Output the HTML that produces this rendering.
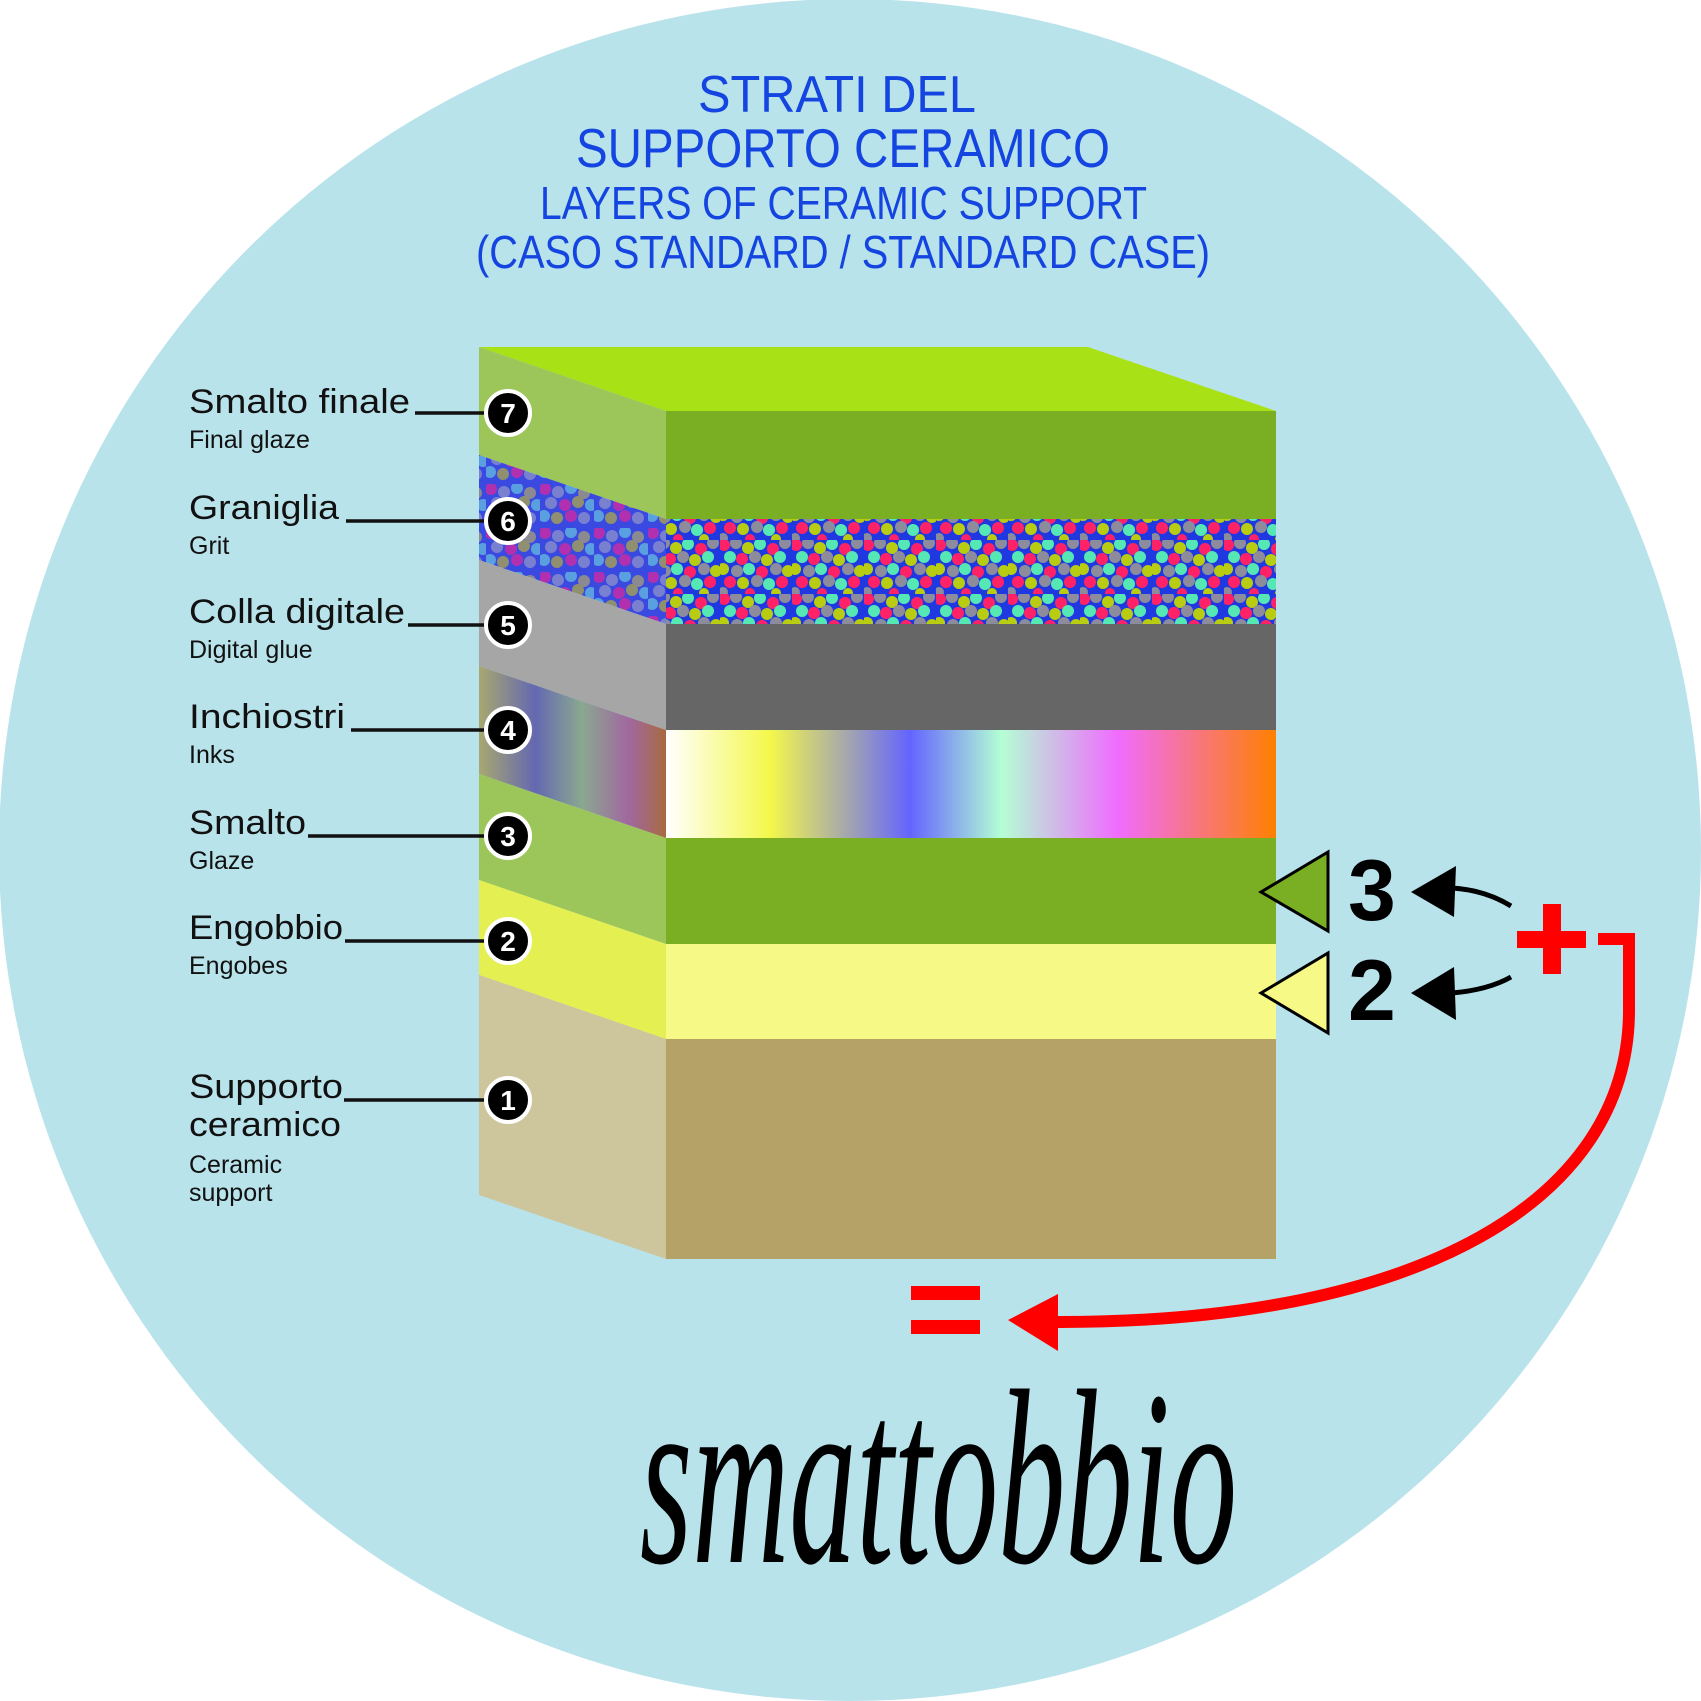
<!DOCTYPE html>
<html><head><meta charset="utf-8"><style>html,body{margin:0;padding:0;background:#fff}svg{display:block}</style></head>
<body>
<svg width="1701" height="1701" viewBox="0 0 1701 1701" xmlns="http://www.w3.org/2000/svg">
<defs>
<pattern id="grit" width="72" height="54" patternUnits="userSpaceOnUse">
<rect width="72" height="54" fill="#2038e0"/>
<circle cx="4" cy="5" r="6" fill="#ff2266"/><circle cx="16" cy="3" r="6" fill="#8c8c9c"/><circle cx="28" cy="8" r="6" fill="#b8cc12"/><circle cx="40" cy="4" r="6" fill="#55e8b5"/><circle cx="53" cy="9" r="6" fill="#ff2266"/><circle cx="65" cy="3" r="6" fill="#8c8c9c"/>
<circle cx="10" cy="17" r="6" fill="#55e8b5"/><circle cx="22" cy="19" r="6" fill="#ff2266"/><circle cx="35" cy="17" r="6" fill="#8c8c9c"/><circle cx="47" cy="20" r="6" fill="#b8cc12"/><circle cx="60" cy="17" r="6" fill="#55e8b5"/>
<circle cx="3" cy="29" r="6" fill="#b8cc12"/><circle cx="17" cy="31" r="6" fill="#8c8c9c"/><circle cx="29" cy="29" r="6" fill="#55e8b5"/><circle cx="42" cy="32" r="6" fill="#ff2266"/><circle cx="56" cy="29" r="6" fill="#8c8c9c"/><circle cx="68" cy="31" r="6" fill="#b8cc12"/>
<circle cx="10" cy="42" r="6" fill="#ff2266"/><circle cx="23" cy="43" r="6" fill="#b8cc12"/><circle cx="37" cy="41" r="6" fill="#8c8c9c"/><circle cx="49" cy="44" r="6" fill="#55e8b5"/><circle cx="62" cy="42" r="6" fill="#ff2266"/>
<circle cx="3" cy="52" r="5" fill="#8c8c9c"/><circle cx="30" cy="53" r="5" fill="#ff2266"/><circle cx="56" cy="53" r="5" fill="#b8cc12"/>
</pattern>
<pattern id="gritL" width="54" height="44" patternUnits="userSpaceOnUse">
<rect width="54" height="44" fill="#3a4ae0"/>
<circle cx="5" cy="5" r="6" fill="#b030b0"/><circle cx="18" cy="8" r="6" fill="#7a80d0"/><circle cx="31" cy="4" r="6" fill="#5aa0e0"/><circle cx="44" cy="9" r="6" fill="#8a8a90"/>
<circle cx="11" cy="19" r="6" fill="#7a80d0"/><circle cx="25" cy="21" r="6" fill="#b030b0"/><circle cx="38" cy="18" r="6" fill="#909070"/><circle cx="51" cy="21" r="6" fill="#5aa0e0"/>
<circle cx="4" cy="32" r="6" fill="#5aa0e0"/><circle cx="17" cy="34" r="6" fill="#909070"/><circle cx="31" cy="32" r="6" fill="#b030b0"/><circle cx="44" cy="34" r="6" fill="#7a80d0"/>
</pattern>
<linearGradient id="ink" x1="0" x2="1" y1="0" y2="0">
<stop offset="0" stop-color="#ffffff"/><stop offset="0.17" stop-color="#f4f84a"/><stop offset="0.4" stop-color="#6464ff"/><stop offset="0.55" stop-color="#b4ffd4"/><stop offset="0.74" stop-color="#f06cff"/><stop offset="1" stop-color="#ff8000"/>
</linearGradient>
<linearGradient id="inkL" x1="0" x2="1" y1="0" y2="0">
<stop offset="0" stop-color="#a8a870"/><stop offset="0.3" stop-color="#6468b0"/><stop offset="0.55" stop-color="#8aa890"/><stop offset="0.8" stop-color="#a068a0"/><stop offset="1" stop-color="#a86a40"/>
</linearGradient>
</defs>
<circle cx="850" cy="850" r="851" fill="#b9e3eb"/>

<g fill="#1545e0" font-family="Liberation Sans, sans-serif">
<text x="698" y="112" font-size="52" textLength="278" lengthAdjust="spacingAndGlyphs">STRATI DEL</text>
<text x="576" y="167" font-size="55" textLength="534" lengthAdjust="spacingAndGlyphs">SUPPORTO CERAMICO</text>
<text x="540" y="219" font-size="46" textLength="607" lengthAdjust="spacingAndGlyphs">LAYERS OF CERAMIC SUPPORT</text>
<text x="476" y="268" font-size="46" textLength="734" lengthAdjust="spacingAndGlyphs">(CASO STANDARD / STANDARD CASE)</text>
</g>

<polygon points="479,347 1088,347 1276,411 666,411" fill="#a8e216"/>
<rect x="666" y="411" width="610" height="108" fill="#7aaf24"/>
<rect x="666" y="519" width="610" height="105" fill="url(#grit)"/>
<rect x="666" y="624" width="610" height="106" fill="#666666"/>
<rect x="666" y="730" width="610" height="108" fill="url(#ink)"/>
<rect x="666" y="838" width="610" height="106" fill="#7aaf24"/>
<rect x="666" y="944" width="610" height="95" fill="#f6f985"/>
<rect x="666" y="1039" width="610" height="220" fill="#b4a266"/>
<polygon points="479,347 666,411 666,519 479,455" fill="#9cc65a"/>
<polygon points="479,455 666,519 666,624 479,560" fill="url(#gritL)"/>
<polygon points="479,560 666,624 666,730 479,666" fill="#a6a6a6"/>
<polygon points="479,666 666,730 666,838 479,774" fill="url(#inkL)"/>
<polygon points="479,774 666,838 666,944 479,880" fill="#9cc65a"/>
<polygon points="479,880 666,944 666,1039 479,975" fill="#e4ef52"/>
<polygon points="479,975 666,1039 666,1259 479,1195" fill="#cdc59b"/>

<g font-family="Liberation Sans, sans-serif" fill="#111">
<text x="189" y="413" font-size="34" textLength="221" lengthAdjust="spacingAndGlyphs">Smalto finale</text>
<text x="189" y="448" font-size="25">Final glaze</text>
<text x="189" y="519" font-size="34" textLength="150" lengthAdjust="spacingAndGlyphs">Graniglia</text>
<text x="189" y="554" font-size="25">Grit</text>
<text x="189" y="623" font-size="34" textLength="216" lengthAdjust="spacingAndGlyphs">Colla digitale</text>
<text x="189" y="658" font-size="25">Digital glue</text>
<text x="189" y="728" font-size="34" textLength="156" lengthAdjust="spacingAndGlyphs">Inchiostri</text>
<text x="189" y="763" font-size="25">Inks</text>
<text x="189" y="834" font-size="34" textLength="117" lengthAdjust="spacingAndGlyphs">Smalto</text>
<text x="189" y="869" font-size="25">Glaze</text>
<text x="189" y="939" font-size="34" textLength="154" lengthAdjust="spacingAndGlyphs">Engobbio</text>
<text x="189" y="974" font-size="25">Engobes</text>
<text x="189" y="1098" font-size="34" textLength="154" lengthAdjust="spacingAndGlyphs">Supporto</text>
<text x="189" y="1136" font-size="34" textLength="152" lengthAdjust="spacingAndGlyphs">ceramico</text>
<text x="189" y="1173" font-size="25">Ceramic</text>
<text x="189" y="1201" font-size="25">support</text>
</g>
<g stroke="#111" stroke-width="3.5">
<line x1="415" y1="413" x2="490" y2="413"/>
<line x1="346" y1="521" x2="490" y2="521"/>
<line x1="408" y1="625" x2="490" y2="625"/>
<line x1="351" y1="730" x2="490" y2="730"/>
<line x1="308" y1="836" x2="490" y2="836"/>
<line x1="345" y1="941" x2="490" y2="941"/>
<line x1="344" y1="1100" x2="490" y2="1100"/>
</g>
<g stroke="#fff" stroke-width="4" fill="#000">
<circle cx="508" cy="413" r="22"/><circle cx="508" cy="521" r="22"/><circle cx="508" cy="625" r="22"/><circle cx="508" cy="730" r="22"/><circle cx="508" cy="836" r="22"/><circle cx="508" cy="941" r="22"/><circle cx="508" cy="1100" r="22"/>
</g>
<g fill="#fff" font-family="Liberation Sans, sans-serif" font-weight="bold" font-size="28" text-anchor="middle">
<text x="508" y="423">7</text><text x="508" y="531">6</text><text x="508" y="635">5</text><text x="508" y="740">4</text><text x="508" y="846">3</text><text x="508" y="951">2</text><text x="508" y="1110">1</text>
</g>

<polygon points="1261,892 1328,852 1328,931" fill="#7aaf24" stroke="#000" stroke-width="3"/>
<polygon points="1261,993 1328,953 1328,1033" fill="#f6f985" stroke="#000" stroke-width="3"/>
<g font-family="Liberation Sans, sans-serif" font-weight="bold" font-size="86" fill="#000">
<text x="1348" y="920">3</text><text x="1348" y="1020">2</text>
</g>
<path d="M1511,906 Q1485,890 1452,888" stroke="#000" stroke-width="5" fill="none"/>
<polygon points="1411,892 1456,866 1454,917" fill="#000"/>
<path d="M1511,977 Q1488,990 1452,993" stroke="#000" stroke-width="5" fill="none"/>
<polygon points="1411,993 1454,967 1456,1020" fill="#000"/>
<rect x="1543" y="904" width="18" height="70" fill="#f00"/>
<rect x="1517" y="931" width="69" height="17" fill="#f00"/>
<path d="M1598,939 H1629 V1010 C1629,1200 1420,1322 1060,1322 H1040" stroke="#f00" stroke-width="12" fill="none"/>
<polygon points="1008,1320 1058,1294 1058,1351" fill="#f00"/>
<rect x="911" y="1286" width="69" height="14" fill="#f00"/>
<rect x="911" y="1320" width="69" height="14" fill="#f00"/>

<text x="640" y="1562" font-family="Liberation Serif, serif" font-style="italic" font-size="250" fill="#000" textLength="597" lengthAdjust="spacingAndGlyphs">smattobbio</text>
</svg>
</body></html>
